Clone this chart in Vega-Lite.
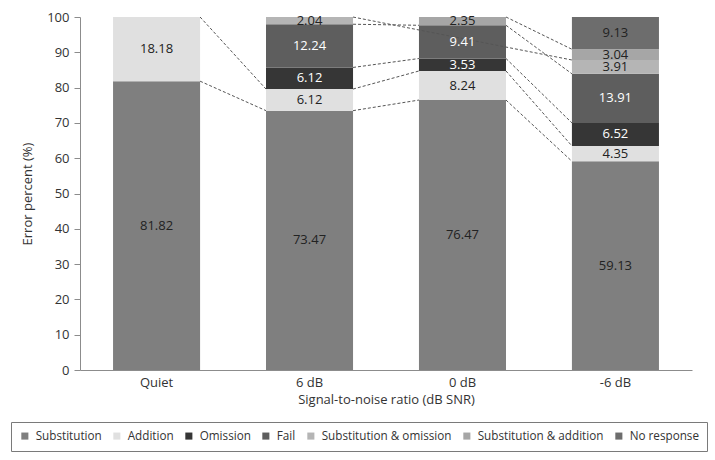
{
  "$schema": "https://vega.github.io/schema/vega-lite/v6.json",
  "width": 612,
  "height": 353,
  "autosize": {"type": "none"},
  "padding": {"left": 80, "top": 17, "right": 23, "bottom": 90},
  "background": "white",
  "config": {
    "font": "Open Sans",
    "view": {"stroke": null},
    "axis": {"grid": false, "domainColor": "#8c8c8c", "tickColor": "#8c8c8c", "labelColor": "#333333", "titleColor": "#333333", "labelFontSize": 13, "titleFontSize": 13, "titleFontWeight": "normal", "labelFont": "Open Sans", "titleFont": "Open Sans"},
    "axisX": {"ticks": false, "labelPadding": 6, "titlePadding": 4, "labelAngle": 0},
    "axisY": {"tickSize": 6, "labelPadding": 5, "titlePadding": 12, "labelOverlap": false, "values": [0, 10, 20, 30, 40, 50, 60, 70, 80, 90, 100]},
    "legend": {"orient": "none", "legendX": -69, "legendY": 405, "direction": "horizontal", "symbolType": "square", "symbolSize": 50, "symbolStrokeWidth": 0, "labelFontSize": 11.7, "labelColor": "#333333", "labelFont": "Open Sans", "strokeColor": "#7a7a7a", "padding": 8, "columnPadding": 9, "labelOffset": 5}
  },
  "datasets": {
    "bars": [
      {"cond": "Quiet", "type": "Substitution", "s": 1, "v": 81.82},
      {"cond": "Quiet", "type": "Addition", "s": 2, "v": 18.18},
      {"cond": "6 dB", "type": "Substitution", "s": 1, "v": 73.47},
      {"cond": "6 dB", "type": "Addition", "s": 2, "v": 6.12},
      {"cond": "6 dB", "type": "Omission", "s": 3, "v": 6.12},
      {"cond": "6 dB", "type": "Fail", "s": 4, "v": 12.24},
      {"cond": "6 dB", "type": "Substitution & omission", "s": 5, "v": 2.04},
      {"cond": "0 dB", "type": "Substitution", "s": 1, "v": 76.47},
      {"cond": "0 dB", "type": "Addition", "s": 2, "v": 8.24},
      {"cond": "0 dB", "type": "Omission", "s": 3, "v": 3.53},
      {"cond": "0 dB", "type": "Fail", "s": 4, "v": 9.41},
      {"cond": "0 dB", "type": "Substitution & addition", "s": 6, "v": 2.35},
      {"cond": "-6 dB", "type": "Substitution", "s": 1, "v": 59.13},
      {"cond": "-6 dB", "type": "Addition", "s": 2, "v": 4.35},
      {"cond": "-6 dB", "type": "Omission", "s": 3, "v": 6.52},
      {"cond": "-6 dB", "type": "Fail", "s": 4, "v": 13.91},
      {"cond": "-6 dB", "type": "Substitution & omission", "s": 5, "v": 3.91},
      {"cond": "-6 dB", "type": "Substitution & addition", "s": 6, "v": 3.04},
      {"cond": "-6 dB", "type": "No response", "s": 7, "v": 9.13}
    ],
    "links": [
      {"from": "Quiet", "to": "6 dB", "v1": 81.82, "v2": 73.47},
      {"from": "Quiet", "to": "6 dB", "v1": 100, "v2": 79.59},
      {"from": "6 dB", "to": "0 dB", "v1": 73.47, "v2": 76.47},
      {"from": "6 dB", "to": "0 dB", "v1": 79.59, "v2": 84.71},
      {"from": "6 dB", "to": "0 dB", "v1": 85.71, "v2": 88.24},
      {"from": "6 dB", "to": "0 dB", "v1": 97.95, "v2": 97.65},
      {"from": "6 dB", "to": "-6 dB", "v1": 99.99, "v2": 87.82},
      {"from": "0 dB", "to": "-6 dB", "v1": 76.47, "v2": 59.13},
      {"from": "0 dB", "to": "-6 dB", "v1": 84.71, "v2": 63.48},
      {"from": "0 dB", "to": "-6 dB", "v1": 88.24, "v2": 70.0},
      {"from": "0 dB", "to": "-6 dB", "v1": 97.65, "v2": 83.91},
      {"from": "0 dB", "to": "-6 dB", "v1": 100, "v2": 90.86}
    ]
  },
  "layer": [
    {
      "data": {"name": "bars"},
      "mark": {"type": "bar"},
      "encoding": {
        "x": {"field": "cond", "type": "nominal", "title": "Signal-to-noise ratio (dB SNR)", "sort": null, "scale": {"domain": ["Quiet", "6 dB", "0 dB", "-6 dB"], "paddingInner": 0.431, "paddingOuter": 0.216}},
        "y": {"field": "v", "type": "quantitative", "stack": "zero", "title": "Error percent (%)", "scale": {"domain": [0, 100], "nice": false}},
        "color": {"field": "type", "type": "nominal", "title": null, "sort": ["Substitution", "Addition", "Omission", "Fail", "Substitution & omission", "Substitution & addition", "No response"], "scale": {"domain": ["Substitution", "Addition", "Omission", "Fail", "Substitution & omission", "Substitution & addition", "No response"], "range": ["#7f7f7f", "#e0e0e0", "#363636", "#5e5e5e", "#b5b5b5", "#a6a6a6", "#6d6d6d"]}},
        "order": {"field": "s", "type": "quantitative"}
      }
    },
    {
      "data": {"name": "links"},
      "mark": {"type": "rule", "strokeDash": [3, 2], "color": "#555555", "strokeWidth": 1},
      "encoding": {
        "x": {"field": "from", "type": "nominal", "bandPosition": 1, "title": "Signal-to-noise ratio (dB SNR)", "scale": {"domain": ["Quiet", "6 dB", "0 dB", "-6 dB"], "paddingInner": 0.431, "paddingOuter": 0.216}},
        "x2": {"field": "to", "bandPosition": 0},
        "y": {"field": "v1", "type": "quantitative", "title": "Error percent (%)", "scale": {"domain": [0, 100], "nice": false}},
        "y2": {"field": "v2"}
      }
    },
    {
      "data": {"name": "bars"},
      "mark": {"type": "text", "fontSize": 13, "font": "Open Sans"},
      "encoding": {
        "x": {"field": "cond", "type": "nominal", "title": "Signal-to-noise ratio (dB SNR)", "scale": {"domain": ["Quiet", "6 dB", "0 dB", "-6 dB"], "paddingInner": 0.431, "paddingOuter": 0.216}},
        "y": {"field": "v", "type": "quantitative", "stack": "zero", "bandPosition": 0.5, "title": "Error percent (%)", "scale": {"domain": [0, 100], "nice": false}},
        "order": {"field": "s", "type": "quantitative"},
        "text": {"field": "v", "type": "quantitative", "format": ".2f"},
        "color": {"condition": {"test": "datum.type === 'Omission' || datum.type === 'Fail'", "value": "#ffffff"}, "value": "#222222"}
      }
    }
  ]
}
